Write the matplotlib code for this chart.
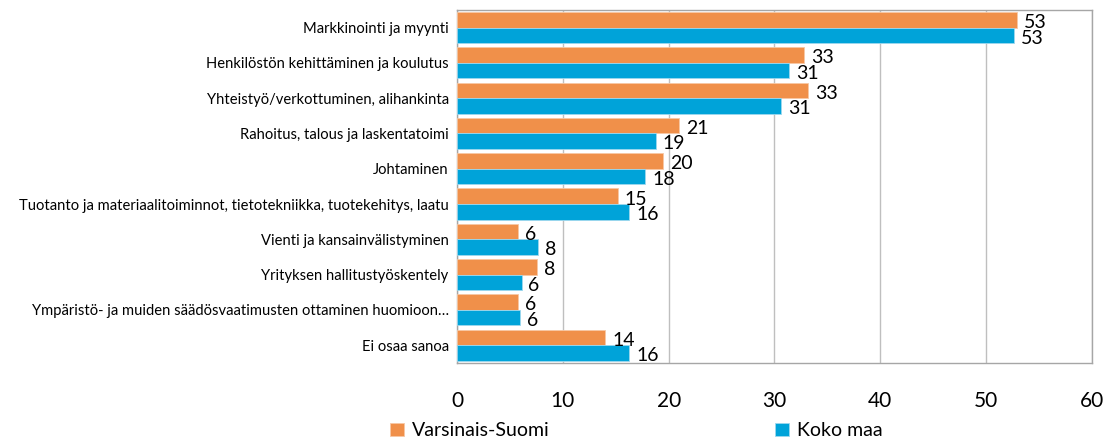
import numpy as np
import matplotlib.pyplot as plt

categories = [
    "Markkinointi ja myynti",
    "Henkilöstön kehittäminen ja koulutus",
    "Yhteistyö/verkottuminen, alihankinta",
    "Rahoitus, talous ja laskentatoimi",
    "Johtaminen",
    "Tuotanto ja materiaalitoiminnot, tietotekniikka, tuotekehitys, laatu",
    "Vienti ja kansainvälistyminen",
    "Yrityksen hallitustyöskentely",
    "Ympäristö- ja muiden säädösvaatimusten ottaminen huomioon…",
    "Ei osaa sanoa",
]
varsinais_suomi = [52.9, 32.8, 33.2, 21.0, 19.5, 15.2, 5.8, 7.6, 5.8, 14.0]
koko_maa = [52.6, 31.4, 30.6, 18.8, 17.8, 16.3, 7.7, 6.1, 6.0, 16.3]
series_names = ["Varsinais-Suomi", "Koko maa"]
xticks = [0, 10, 20, 30, 40, 50, 60]

orange = "#F0904A"
blue = "#00A3D9"
plt.rcParams['font.family'] = ['Lato', 'DejaVu Sans']

fig = plt.figure(figsize=(11.2, 4.48), dpi=100)
ax = fig.add_axes([0.408, 0.19, 0.567, 0.788])

y = np.arange(len(categories))
h = 0.44
b1 = ax.barh(y - h / 2, varsinais_suomi, height=h, color=orange,
             edgecolor="#F7C8A4", linewidth=0.6, label=series_names[0], zorder=3)
b2 = ax.barh(y + h / 2, koko_maa, height=h, color=blue,
             edgecolor="#9ED8EE", linewidth=0.6, label=series_names[1], zorder=3)

for bars, vals in [(b1, varsinais_suomi), (b2, koko_maa)]:
    for bar, v in zip(bars, vals):
        ax.annotate(f"{round(v):.0f}", (v, bar.get_y() + bar.get_height() / 2),
                    xytext=(5, -2), textcoords="offset points",
                    ha="left", va="center", fontsize=14, color="black", zorder=4)

ax.set_ylim(len(categories) - 0.5, -0.5)
ax.set_xlim(0, 60)
ax.set_xticks(xticks)
ax.set_yticks(y)
ax.set_yticklabels(categories, fontsize=10.6)
ax.tick_params(axis="x", length=0, pad=20, labelsize=15)
ax.tick_params(axis="y", length=0, pad=6)
ax.grid(axis="x", color="#BFBFBF", linewidth=1, zorder=0)
for s in ax.spines.values():
    s.set_color("#A6A6A6")
    s.set_linewidth(1)

fig.legend(handles=[b1, b2], labels=series_names, loc="lower left",
           bbox_to_anchor=(0.333, -0.02), ncol=2, frameon=False, fontsize=14,
           handlelength=0.7, handleheight=0.7, handletextpad=0.4, columnspacing=11.6)

plt.savefig("out.png", dpi=100)
